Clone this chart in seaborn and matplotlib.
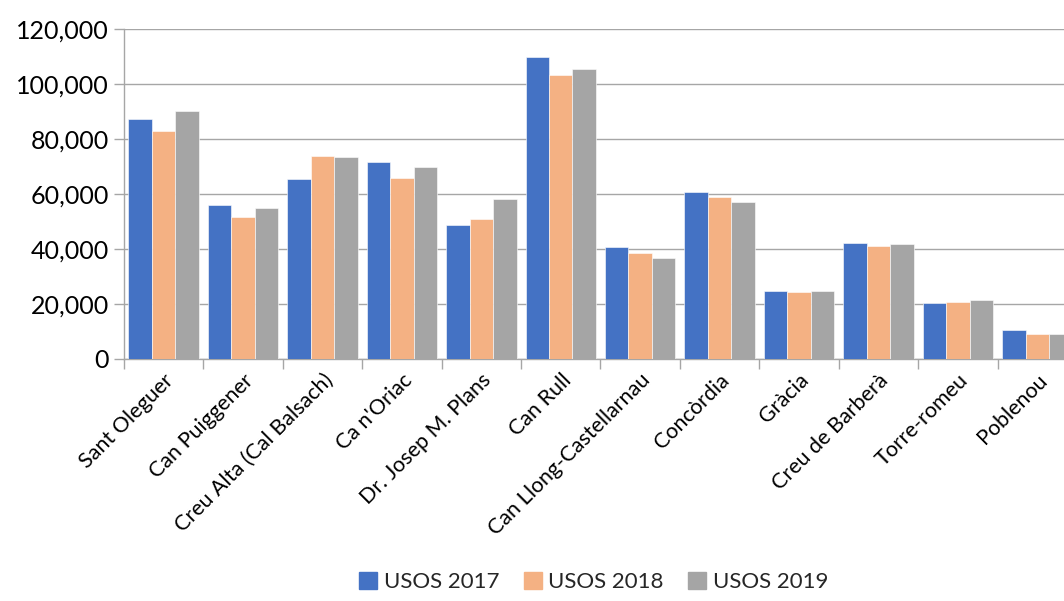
import pandas as pd
import numpy as np
import matplotlib.pyplot as plt
import seaborn as sns
from matplotlib.ticker import FuncFormatter, FixedLocator

# data
barris = ["Sant Oleguer", "Can Puiggener", "Creu Alta (Cal Balsach)", "Ca n'Oriac",
          "Dr. Josep M. Plans", "Can Rull", "Can Llong-Castellarnau", "Concòrdia",
          "Gràcia", "Creu de Barberà", "Torre-romeu", "Poblenou"]
usos_2017 = [87100, 56100, 65400, 71700, 48500, 109600, 40600, 60500, 24800, 42100, 20300, 10500]
usos_2018 = [82800, 51500, 73700, 65700, 50800, 103000, 38400, 58900, 24300, 41200, 20800, 9200]
usos_2019 = [90000, 54700, 73400, 69800, 58000, 105300, 36600, 57000, 24800, 41700, 21300, 9200]
series = ["USOS 2017", "USOS 2018", "USOS 2019"]
colors = ["#4472C4", "#F4B183", "#A5A5A5"]

df = pd.DataFrame({"barri": barris, "USOS 2017": usos_2017,
                   "USOS 2018": usos_2018, "USOS 2019": usos_2019})
long_df = df.melt(id_vars="barri", var_name="serie", value_name="usos")

sns.set_style("white")
plt.rcParams['font.family'] = ['Lato', 'DejaVu Sans']

fig = plt.figure(figsize=(10.64, 6.01), dpi=100)
ax = fig.add_axes([0.1165, 0.4027, 0.8957, 0.5497])

sns.barplot(data=long_df, x="barri", y="usos", hue="serie", hue_order=series,
            palette=colors, width=0.887, gap=0, saturation=1, errorbar=None,
            edgecolor="white", linewidth=0.4, ax=ax, zorder=3)

ax.set_ylim(0, 120000)
ax.set_xlim(-0.5, len(barris) - 0.5)
ax.yaxis.set_major_locator(FixedLocator(np.arange(0, 120001, 20000)))
ax.yaxis.set_major_formatter(FuncFormatter(lambda v, p: f"{int(v):,}"))
ax.grid(axis="y", color="#A6A6A6", linewidth=1.0, zorder=0)
ax.set_axisbelow(True)

ax.set_xlabel("")
ax.set_ylabel("")
for s in ["top", "right"]:
    ax.spines[s].set_visible(False)
for s in ["left", "bottom"]:
    ax.spines[s].set_color("#A6A6A6")
    ax.spines[s].set_linewidth(1.0)

ax.tick_params(axis="y", which="major", length=7, width=1, color="#A6A6A6",
               labelsize=18, pad=4, left=True, labelcolor="black")
ax.set_xticks(range(len(barris)))
ax.set_xticklabels(barris, rotation=45, ha="right", rotation_mode="anchor", fontsize=15.5)
ax.tick_params(axis="x", which="major", length=0, pad=8, labelcolor="black")
ax.set_xticks(np.arange(-0.5, len(barris), 1), minor=True)
ax.tick_params(axis="x", which="minor", length=7, width=1, color="#A6A6A6", bottom=True)

ax.get_legend().remove()
handles = [plt.Rectangle((0, 0), 1, 1, color=c) for c in colors]
fig.legend(handles, series, loc="center", bbox_to_anchor=(0.558, 0.032), ncol=3,
           frameon=False, fontsize=16, handlelength=0.8, handleheight=0.8,
           handletextpad=0.3, columnspacing=1.1)

fig.savefig("out.png", dpi=100)
